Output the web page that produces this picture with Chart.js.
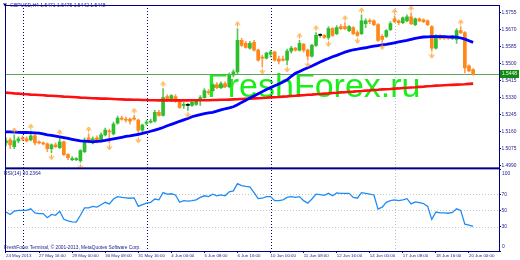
<!DOCTYPE html>
<html><head><meta charset="utf-8">
<script src="https://cdn.jsdelivr.net/npm/chart.js@4.4.0/dist/chart.umd.min.js"></script>
<style>html,body{margin:0;padding:0;background:#fff;overflow:hidden}#wrap{position:relative;width:520px;height:260px}</style>
</head><body><div id="wrap"><canvas id="c" width="520" height="260"></canvas></div>
<script>
// ---------- DATA ----------
const symbol = 'GBPUSD,H4';
const opens = [
1.5103,1.5118,1.5084,1.5113,1.5128,1.5123,1.5118,1.5138,1.5108,1.5103,
1.5098,1.5074,1.5093,1.5079,1.5108,1.5044,1.5019,1.5019,1.5014,1.5059,
1.5128,1.5103,1.5128,1.5113,1.5143,1.5162,1.5148,1.5202,1.5227,1.5222,
1.5222,1.5227,1.5217,1.5167,1.5202,1.5207,1.5212,1.5256,1.5241,1.5335,
1.5316,1.5335,1.5316,1.5291,1.5291,1.5291,1.5296,1.5316,1.5330,1.5360,
1.5365,1.5395,1.5380,1.5400,1.5385,1.5444,1.5459,1.5617,1.5602,1.5578,
1.5607,1.5568,1.5533,1.5528,1.5548,1.5558,1.5523,1.5523,1.5518,1.5563,
1.5578,1.5568,1.5597,1.5568,1.5538,1.5592,1.5642,1.5642,1.5632,1.5676,
1.5651,1.5686,1.5686,1.5666,1.5681,1.5656,1.5651,1.5701,1.5715,1.5715,
1.5696,1.5637,1.5637,1.5671,1.5725,1.5715,1.5706,1.5715,1.5735,1.5696,
1.5725,1.5720,1.5715,1.5686,1.5578,1.5642,1.5637,1.5632,1.5627,1.5622,
1.5666,1.5656,1.5489,1.5471];
const highs = [
1.5128,1.5128,1.5143,1.5133,1.5138,1.5133,1.5162,1.5148,1.5113,1.5108,
1.5103,1.5098,1.5103,1.5133,1.5113,1.5049,1.5034,1.5029,1.5069,1.5128,
1.5148,1.5133,1.5138,1.5153,1.5177,1.5172,1.5207,1.5237,1.5237,1.5232,
1.5227,1.5241,1.5222,1.5197,1.5217,1.5222,1.5266,1.5266,1.5375,1.5345,
1.5345,1.5345,1.5321,1.5306,1.5301,1.5311,1.5321,1.5340,1.5375,1.5370,
1.5405,1.5405,1.5409,1.5409,1.5454,1.5469,1.5676,1.5627,1.5612,1.5612,
1.5617,1.5573,1.5543,1.5558,1.5568,1.5563,1.5538,1.5538,1.5573,1.5587,
1.5582,1.5617,1.5602,1.5573,1.5597,1.5656,1.5651,1.5646,1.5686,1.5681,
1.5691,1.5696,1.5706,1.5691,1.5686,1.5666,1.5745,1.5725,1.5725,1.5720,
1.5701,1.5646,1.5671,1.5711,1.5740,1.5720,1.5735,1.5745,1.5755,1.5730,
1.5730,1.5725,1.5720,1.5691,1.5646,1.5646,1.5642,1.5637,1.5642,1.5676,
1.5686,1.5661,1.5494,1.5475];
const lows = [
1.5089,1.5074,1.5074,1.5103,1.5113,1.5108,1.5113,1.5093,1.5098,1.5093,
1.5059,1.5054,1.5079,1.5074,1.5039,1.5019,1.5014,1.5014,1.5005,1.5054,
1.5103,1.5098,1.5103,1.5108,1.5138,1.5103,1.5143,1.5197,1.5217,1.5207,
1.5197,1.5217,1.5138,1.5158,1.5192,1.5202,1.5207,1.5237,1.5237,1.5311,
1.5311,1.5306,1.5276,1.5276,1.5266,1.5286,1.5291,1.5291,1.5326,1.5345,
1.5360,1.5375,1.5375,1.5380,1.5380,1.5434,1.5449,1.5587,1.5578,1.5573,
1.5563,1.5513,1.5484,1.5523,1.5533,1.5513,1.5499,1.5513,1.5494,1.5553,
1.5563,1.5563,1.5558,1.5518,1.5533,1.5587,1.5632,1.5627,1.5622,1.5637,
1.5646,1.5671,1.5671,1.5661,1.5646,1.5637,1.5646,1.5681,1.5701,1.5691,
1.5612,1.5607,1.5632,1.5666,1.5706,1.5696,1.5701,1.5711,1.5696,1.5691,
1.5711,1.5706,1.5691,1.5563,1.5573,1.5622,1.5622,1.5622,1.5622,1.5602,
1.5651,1.5454,1.5459,1.5442];
const closes = [
1.5113,1.5093,1.5113,1.5123,1.5123,1.5113,1.5138,1.5103,1.5103,1.5098,
1.5074,1.5093,1.5084,1.5108,1.5044,1.5029,1.5024,1.5024,1.5064,1.5113,
1.5108,1.5123,1.5108,1.5143,1.5167,1.5158,1.5197,1.5227,1.5222,1.5217,
1.5212,1.5222,1.5167,1.5192,1.5207,1.5212,1.5256,1.5241,1.5330,1.5316,
1.5340,1.5311,1.5281,1.5296,1.5291,1.5306,1.5316,1.5330,1.5365,1.5355,
1.5395,1.5380,1.5400,1.5385,1.5444,1.5459,1.5617,1.5592,1.5582,1.5602,
1.5568,1.5518,1.5528,1.5553,1.5558,1.5518,1.5513,1.5518,1.5563,1.5578,
1.5568,1.5602,1.5568,1.5538,1.5592,1.5642,1.5642,1.5632,1.5676,1.5642,
1.5681,1.5676,1.5676,1.5686,1.5651,1.5642,1.5715,1.5715,1.5711,1.5696,
1.5617,1.5622,1.5666,1.5701,1.5711,1.5706,1.5730,1.5735,1.5701,1.5725,
1.5715,1.5711,1.5696,1.5578,1.5642,1.5627,1.5627,1.5627,1.5637,1.5666,
1.5656,1.5479,1.5464,1.5448];
const maBlue = [
1.5158,1.5158,1.5157,1.5156,1.5155,1.5155,1.5154,1.5153,1.5152,1.5148,
1.5143,1.5140,1.5137,1.5133,1.5129,1.5125,1.5121,1.5117,1.5113,1.5112,
1.5110,1.5108,1.5110,1.5112,1.5115,1.5119,1.5123,1.5127,1.5131,1.5135,
1.5138,1.5142,1.5146,1.5150,1.5155,1.5161,1.5167,1.5173,1.5180,1.5189,
1.5196,1.5203,1.5211,1.5218,1.5225,1.5234,1.5239,1.5244,1.5249,1.5253,
1.5256,1.5262,1.5268,1.5274,1.5278,1.5284,1.5294,1.5306,1.5316,1.5328,
1.5338,1.5349,1.5360,1.5371,1.5380,1.5389,1.5398,1.5408,1.5419,1.5437,
1.5452,1.5461,1.5471,1.5480,1.5488,1.5499,1.5509,1.5518,1.5526,1.5535,
1.5542,1.5550,1.5558,1.5564,1.5570,1.5573,1.5577,1.5580,1.5584,1.5588,
1.5591,1.5594,1.5597,1.5601,1.5605,1.5609,1.5613,1.5617,1.5622,1.5627,
1.5631,1.5634,1.5635,1.5636,1.5636,1.5636,1.5636,1.5635,1.5634,1.5633,
1.5629,1.5623,1.5615,1.5607];
const maRed = [
1.5355,1.5353,1.5351,1.5350,1.5348,1.5347,1.5345,1.5344,1.5343,1.5342,
1.5340,1.5339,1.5338,1.5337,1.5335,1.5334,1.5333,1.5332,1.5330,1.5329,
1.5328,1.5327,1.5326,1.5325,1.5325,1.5324,1.5323,1.5322,1.5321,1.5320,
1.5320,1.5319,1.5319,1.5318,1.5318,1.5317,1.5317,1.5316,1.5316,1.5316,
1.5316,1.5316,1.5316,1.5316,1.5316,1.5317,1.5317,1.5317,1.5317,1.5317,
1.5318,1.5318,1.5319,1.5319,1.5320,1.5321,1.5322,1.5323,1.5324,1.5325,
1.5326,1.5327,1.5328,1.5329,1.5331,1.5332,1.5333,1.5335,1.5336,1.5338,
1.5339,1.5341,1.5342,1.5344,1.5345,1.5347,1.5348,1.5350,1.5351,1.5353,
1.5354,1.5356,1.5357,1.5359,1.5360,1.5362,1.5363,1.5365,1.5366,1.5368,
1.5369,1.5371,1.5372,1.5373,1.5375,1.5376,1.5378,1.5379,1.5381,1.5382,
1.5384,1.5385,1.5387,1.5388,1.5390,1.5391,1.5392,1.5393,1.5394,1.5395,
1.5396,1.5397,1.5399,1.5400];
const rsi = [
48,45,49,50,50,50,52,47,46,46,
41,45,44,49,39,37,36,35.5,44,53,
53,55,54,57,60,58,64,67,66,65.5,
65,65.5,55,57,59,60,64,63,72,70,
70.5,69,60,62,61.5,62,63,66,68,67,
70,68,69,68,73,74,83,80.5,79.5,79,
72,64.5,65,67,67,62,62,63,66,67,
66,67,62,59,64,70,69.5,68.5,71,68,
71.5,71,71,71,66,65,71.8,71,70,69,
51.5,54,60,62,63,62,63,64.5,58,60.5,
59.5,58.5,55,39,48,47,47,46.5,47.5,52,
50,33,32,30.2364];
const fractalUpIdx   = [2,6,13,20,31,38,56,71,75,82,86,94,98,110];
const fractalUpPrice = [1.5143,1.5162,1.5133,1.5148,1.5241,1.5375,1.5676,1.5617,1.5656,1.5706,1.5745,1.5740,1.5755,1.5686];
const fractalDnIdx   = [11,18,25,32,44,62,68,73,78,85,91,103];
const fractalDnPrice = [1.5054,1.5005,1.5103,1.5138,1.5266,1.5484,1.5494,1.5518,1.5622,1.5637,1.5607,1.5563];
const weekStartIdx = [4,34,64,94];
const dateTickIdx = [0,8,16,24,32,40,48,56,64,72,80,88,96,104,112];
const dateTickLabels = ['24 May 2013','27 May 16:00','29 May 00:00','30 May 08:00','31 May 16:00','4 Jun 00:00','5 Jun 08:00','6 Jun 16:00','10 Jun 00:00','11 Jun 08:00','12 Jun 16:00','14 Jun 00:00','17 Jun 08:00','18 Jun 16:00','20 Jun 00:00'];
const priceTicks = [1.4990,1.5075,1.5160,1.5245,1.5330,1.5415,1.5500,1.5585,1.5670,1.5755];
const rsiTicks = [0,30,50,70,100];
const rsiLevels = [30,50,70];
const rsiPeriod = 14;
const watermark = 'FreshForex.ru';
const copyright = 'FreshForex Terminal, \u00a9 2001-2013, MetaQuotes Software Corp.';

// ---------- STYLE ----------
const NAVY = '#000080';
const TXT = '#1c1c8c';
const FONT = '"Liberation Sans", Arial, sans-serif';
const upBody = '#2dbd2d', dnBody = '#ff8717', dojiBody = '#000000';
const upWick = '#5cc85c', dnWick = '#ff9d55';
const sepColors = [NAVY, NAVY, NAVY, '#b8b8d4'];

const n = closes.length;
const idx = closes.map((_, i) => i);
const wickData = idx.map(i => ({x: i, y: [lows[i], highs[i]]}));
const bodyData = idx.map(i => ({x: i, y: [opens[i], closes[i]]}));
const bodyColors = idx.map(i => closes[i] > opens[i] ? upBody : (closes[i] < opens[i] ? dnBody : dojiBody));
const wickColors = idx.map(i => closes[i] >= opens[i] ? upWick : dnWick);

function makeArrow(up) {
  const c = document.createElement('canvas');
  c.width = 7; c.height = 20;
  const g = c.getContext('2d');
  g.strokeStyle = 'rgba(255,150,20,0.85)';
  g.fillStyle = 'rgba(255,200,120,0.6)';
  g.lineWidth = 1;
  const f = up ? (v => v) : (v => 20 - v);
  g.beginPath(); g.moveTo(1, f(6.5)); g.lineTo(3.5, f(3)); g.lineTo(6, f(6.5)); g.closePath(); g.fill();
  g.beginPath(); g.moveTo(1, f(6.5)); g.lineTo(3.5, f(3)); g.lineTo(6, f(6.5)); g.stroke();
  g.beginPath(); g.moveTo(3.5, f(5)); g.lineTo(3.5, f(8.5)); g.stroke();
  return c;
}
const arrowUp = makeArrow(true), arrowDn = makeArrow(false);

const mtPlugin = {
  id: 'mt',
  beforeDraw(chart) {
    const ctx = chart.ctx;
    ctx.save(); ctx.fillStyle = '#ffffff'; ctx.fillRect(0, 0, chart.width, chart.height); ctx.restore();
  },
  beforeDatasetsDraw(chart) {
    const {ctx, chartArea: a, scales: {x, y, yr}} = chart;
    ctx.save();
    // watermark
    ctx.font = '34px ' + FONT;
    ctx.fillStyle = '#19ee19';
    ctx.textBaseline = 'alphabetic';
    ctx.fillText(watermark, 207, 97);
    // period separators
    ctx.lineWidth = 1;
    ctx.setLineDash([1, 2]);
    weekStartIdx.forEach((v, k) => {
      const px = Math.round(x.getPixelForValue(v)) + 0.5;
      ctx.strokeStyle = sepColors[k];
      ctx.beginPath(); ctx.moveTo(px, a.top); ctx.lineTo(px, a.bottom); ctx.stroke();
    });
    // RSI levels
    ctx.strokeStyle = '#c8c8c8';
    rsiLevels.forEach(v => {
      const py = Math.round(yr.getPixelForValue(v)) + 0.5;
      ctx.beginPath(); ctx.moveTo(a.left, py); ctx.lineTo(a.right, py); ctx.stroke();
    });
    ctx.setLineDash([]);
    // bid line
    const by = Math.round(y.getPixelForValue(closes[n - 1])) + 0.5;
    ctx.strokeStyle = '#5da55d';
    ctx.beginPath(); ctx.moveTo(a.left, by); ctx.lineTo(a.right, by); ctx.stroke();
    ctx.restore();
  },
  afterDraw(chart) {
    const {ctx, chartArea: a, scales: {y, yr}} = chart;
    ctx.save();
    ctx.fillStyle = NAVY;
    ctx.fillRect(a.left, a.top, a.right - a.left, 1);
    ctx.fillRect(a.left, a.top, 1, a.bottom - a.top);
    ctx.fillRect(a.left, y.bottom, a.right - a.left + 1, 2);
    // title
    ctx.beginPath(); ctx.moveTo(3, 3.5); ctx.lineTo(7, 3.5); ctx.lineTo(5, 6.5); ctx.closePath(); ctx.fill();
    ctx.fillStyle = TXT;
    ctx.textBaseline = 'middle';
    ctx.font = '5px ' + FONT;
    const L = n - 1;
    ctx.fillText(symbol + ' ' + [opens[L], highs[L], lows[L], closes[L]].map(v => v.toFixed(4)).join(' '), 10, 5.5);
    ctx.fillText('RSI(' + rsiPeriod + ') ' + rsi[L].toFixed(4), 4, 174);
    ctx.font = '4.8px ' + FONT;
    ctx.fillText(copyright, 4, 247.5);
    // RSI edge labels (kept inside the pane as the terminal does)
    ctx.font = '4.9px ' + FONT;
    [rsiTicks[0], rsiTicks[rsiTicks.length - 1]].forEach(v => {
      let py = yr.getPixelForValue(v);
      py = Math.min(Math.max(py, yr.top + 6), yr.bottom - 4);
      ctx.fillText(String(v), a.right + 3, py);
    });
    // bid label
    const by = y.getPixelForValue(closes[L]);
    ctx.fillStyle = '#138a13';
    ctx.fillRect(a.right + 1, Math.round(by) - 4, 19, 8);
    ctx.fillStyle = '#ffffff';
    ctx.fillText(closes[L].toFixed(4), a.right + 3, Math.round(by));
    ctx.restore();
  }
};

const tickFont = {family: FONT, size: 4.9};
new Chart(document.getElementById('c'), {
  type: 'bar',
  data: {
    datasets: [
      {type: 'bar', data: wickData, backgroundColor: wickColors, barThickness: 1, grouped: false, borderWidth: 0, yAxisID: 'y', order: 10},
      {type: 'bar', data: bodyData, backgroundColor: bodyColors, barThickness: 3, grouped: false, borderWidth: 0, minBarLength: 1, yAxisID: 'y', order: 9},
      {type: 'line', data: idx.map(i => ({x: i, y: maRed[i]})), borderColor: '#ff1010', borderWidth: 2.6, pointRadius: 0, tension: 0, yAxisID: 'y', order: 8},
      {type: 'line', data: idx.map(i => ({x: i, y: maBlue[i]})), borderColor: '#0000ff', borderWidth: 2.8, pointRadius: 0, tension: 0, yAxisID: 'y', order: 7},
      {type: 'line', data: fractalUpIdx.map((v, k) => ({x: v, y: fractalUpPrice[k]})), showLine: false, pointStyle: arrowUp, pointRadius: 3, yAxisID: 'y', order: 6},
      {type: 'line', data: fractalDnIdx.map((v, k) => ({x: v, y: fractalDnPrice[k]})), showLine: false, pointStyle: arrowDn, pointRadius: 3, yAxisID: 'y', order: 6},
      {type: 'line', data: idx.map(i => ({x: i, y: rsi[i]})), borderColor: '#1e8cf5', borderWidth: 1.3, pointRadius: 0, tension: 0, yAxisID: 'yr', order: 5}
    ]
  },
  options: {
    responsive: false, animation: false, devicePixelRatio: 1, events: [],
    layout: {padding: {top: 1, left: 1, right: 0, bottom: 0}},
    plugins: {legend: {display: false}, tooltip: {enabled: false}, title: {display: false}},
    scales: {
      x: {
        type: 'linear', position: 'bottom', min: -0.24, max: 119.26, offset: false,
        afterBuildTicks: s => { s.ticks = dateTickIdx.map(v => ({value: v})); },
        afterFit: s => { s.height = 9; s.paddingLeft = 0; s.paddingRight = 0; },
        ticks: {autoSkip: false, maxRotation: 0, minRotation: 0, align: 'start', padding: 0.5, color: TXT, font: {family: FONT, size: 4.4},
          callback: (v, i) => dateTickLabels[i]},
        grid: {drawOnChartArea: false, offset: false, tickLength: 2, color: NAVY, tickColor: NAVY},
        border: {display: true, color: NAVY, width: 1}
      },
      y: {
        type: 'linear', position: 'right', stack: 'panes', stackWeight: 165, min: 1.4980, max: 1.57945,
        afterBuildTicks: s => { s.ticks = priceTicks.map(v => ({value: v})); },
        afterFit: s => { s.width = 21; s.paddingTop = 0; s.paddingBottom = 0; },
        ticks: {padding: 0.5, crossAlign: 'near', color: TXT, font: tickFont, callback: v => Number(v).toFixed(4)},
        grid: {drawOnChartArea: false, tickLength: 2, color: NAVY, tickColor: NAVY},
        border: {display: true, color: NAVY, width: 1}
      },
      yr: {
        type: 'linear', position: 'right', stack: 'panes', stackWeight: 85, min: 0, max: 103.03,
        afterBuildTicks: s => { s.ticks = rsiTicks.map(v => ({value: v})); },
        afterFit: s => { s.width = 21; s.paddingTop = 0; s.paddingBottom = 0; },
        ticks: {padding: 0.5, crossAlign: 'near', color: TXT, font: tickFont,
          callback: v => (v === rsiTicks[0] || v === rsiTicks[rsiTicks.length - 1]) ? '' : String(v)},
        grid: {drawOnChartArea: false, tickLength: 2, color: NAVY, tickColor: NAVY},
        border: {display: true, color: NAVY, width: 1}
      }
    }
  },
  plugins: [mtPlugin]
});
</script>
</body></html>
